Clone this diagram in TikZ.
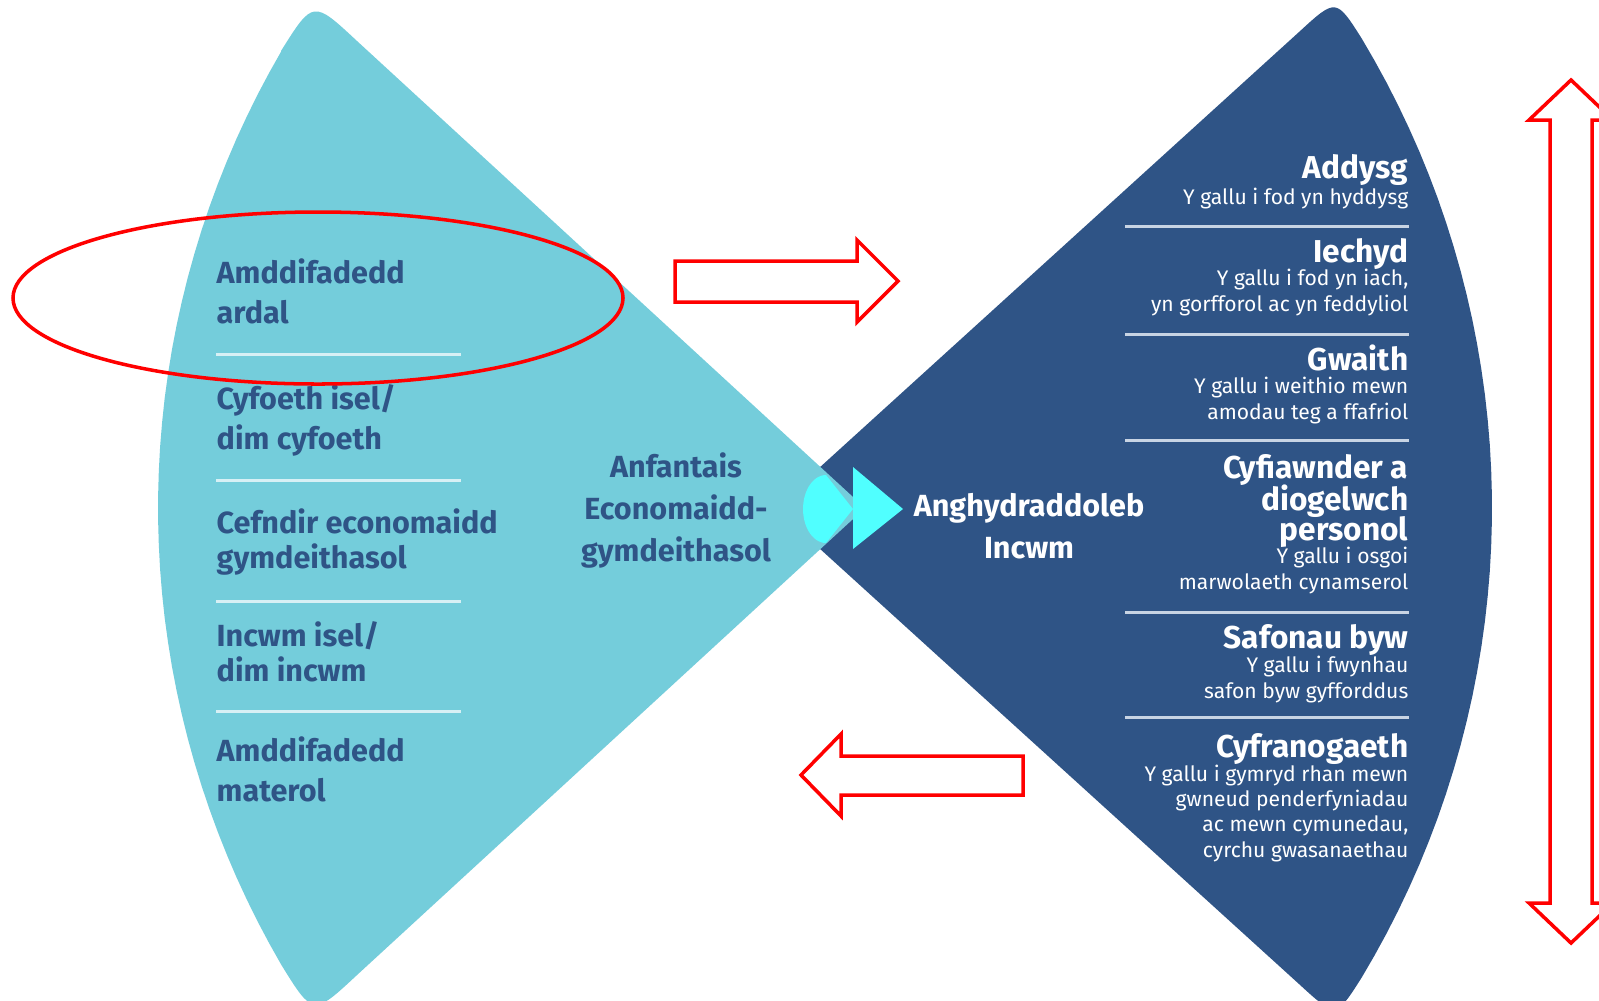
\documentclass[tikz,border=0pt]{standalone}
\usepackage{fontspec}
\setmainfont{Fira Sans}
\usepackage{tikz}
\usetikzlibrary{positioning}
\definecolor{fanteal}{RGB}{116,205,219}
\definecolor{fannavy}{RGB}{47,84,134}
\definecolor{fancyan}{RGB}{80,255,255}
\definecolor{fanred}{RGB}{255,0,0}
\definecolor{tealrule}{RGB}{215,240,245}
\definecolor{navyrule}{RGB}{200,212,228}
\tikzstyle{outline} = [line width=1pt, draw=fanred, line join=miter]
\tikzstyle{sepline} = [line width=0.85pt]
\tikzstyle{leftlabel} = [anchor=base west, align=left, inner sep=0pt, text=fannavy, font=\bfseries\fontsize{8.7}{11.3}\selectfont]
\tikzstyle{midlabel} = [anchor=base, align=center, inner sep=0pt, font=\bfseries\fontsize{8.7}{11.9}\selectfont]
\tikzstyle{capname} = [anchor=base east, align=right, inner sep=0pt, text=white, font=\bfseries\fontsize{9}{8.7}\selectfont]
\tikzstyle{capnote} = [anchor=base east, align=right, inner sep=0pt, text=white, font=\fontsize{6}{7.2}\selectfont]

\begin{document}
\begin{tikzpicture}[x=0.1mm, y=-0.1mm]
    % Canvas
    \useasboundingbox (0,0) rectangle (1599,1000);
    \fill[white] (0,0) rectangle (1599,1000);
    \clip (0,0) rectangle (1599,1000);

    % Income fan (right)
    \fill[fannavy] (775,508) -- (1299,32) .. controls (1336,-2) .. (1362,39)
        -- plot[domain=-31:31, samples=40] ({581+911*cos(\x)}, {508+911*sin(\x)})
        .. controls (1336,1018) .. (1299,984) -- cycle;

    % Disadvantage fan (left)
    \fill[fanteal] (865,508) -- (357,41) .. controls (313,0) .. (281,51)
        -- plot[domain=210.2:149.8, samples=40] ({1066+908*cos(\x)}, {508+908*sin(\x)})
        .. controls (313,1016) .. (357,975) -- cycle;

    % Marker in the middle
    \fill[fancyan] (826,475) -- (853,509) -- (826,543)
        -- plot[domain=90:270, samples=30] ({826+23*cos(\x)}, {509+34*sin(\x)}) -- cycle;
    \fill[fancyan] (853,467) -- (903,509) -- (853,549) -- cycle;

    % Rules
    \foreach \y in {354,480,601,711}
        \draw[sepline, tealrule] (216,\y) -- (461,\y);
    \foreach \y in {226,334,440,612,717}
        \draw[sepline, navyrule] (1125,\y) -- (1409,\y);

    % Left labels (placed at the last baseline)
    \node[leftlabel] (ardal) at (216,323) {Amddifadedd\\ardal};
    \node[leftlabel] (cyfoeth) at (216,449) {Cyfoeth isel/\\dim cyfoeth};
    \node[leftlabel] (cefndir) at (216,568) {Cefndir economaidd\\[-1.5pt]gymdeithasol};
    \node[leftlabel] (incwmisel) at (216,681) {Incwm isel/\\[-1.5pt]dim incwm};
    \node[leftlabel] (materol) at (216,801) {Amddifadedd\\materol};

    % Middle labels
    \node[midlabel, text=fannavy] (anfantais) at (676,561) {Anfantais\\Economaidd-\\gymdeithasol};
    \node[midlabel, text=white] (anghyd) at (1029,558) {Anghydraddoleb\\Incwm};

    % Right labels
    \node[capname] (addysg) at (1409,178) {Addysg};
    \node[capnote] (addysgnote) at (1409,204) {Y gallu i fod yn hyddysg};
    \node[capname] (iechyd) at (1409,262) {Iechyd};
    \node[capnote] (iechydnote) at (1409,311) {Y gallu i fod yn iach,\\yn gorfforol ac yn feddyliol};
    \node[capname] (gwaith) at (1409,370) {Gwaith};
    \node[capnote] (gwaithnote) at (1409,419) {Y gallu i weithio mewn\\amodau teg a ffafriol};
    \node[capname] (cyfiawnder) at (1409,540) {Cyfiawnder a\\[-1.3pt]diogelwch\\[-1.3pt]personol};
    \node[capnote] (cyfiawndernote) at (1409,589) {Y gallu i osgoi\\marwolaeth cynamserol};
    \node[capname] (safonau) at (1409,648) {Safonau byw};
    \node[capnote] (safonaunote) at (1409,698) {Y gallu i fwynhau\\safon byw gyfforddus};
    \node[capname] (cyfran) at (1409,757) {Cyfranogaeth};
    \node[capnote] (cyfrannote) at (1409,857) {Y gallu i gymryd rhan mewn\\gwneud penderfyniadau\\ac mewn cymunedau,\\cyrchu gwasanaethau};

    % Red highlights
    \draw[outline] (318,298) ellipse [x radius=30.5mm, y radius=8.6mm];
    \draw[outline] (675,261) -- (857,261) -- (857,240) -- (898,281) -- (857,322) -- (857,302) -- (675,302) -- cycle;
    \draw[outline] (1023,756) -- (841,756) -- (841,734) -- (801,775) -- (841,816) -- (841,795) -- (1023,795) -- cycle;
    \draw[outline] (1571,80) -- (1613,120) -- (1592,120) -- (1592,903) -- (1613,903) -- (1571,943)
        -- (1529,903) -- (1550,903) -- (1550,120) -- (1529,120) -- cycle;
\end{tikzpicture}
\end{document}
